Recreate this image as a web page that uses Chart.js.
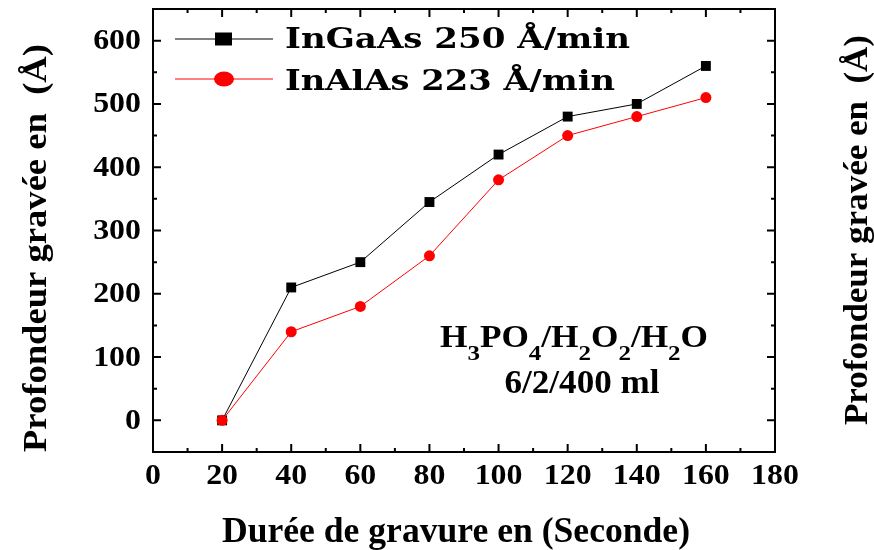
<!DOCTYPE html>
<html>
<head>
<meta charset="utf-8">
<script src="https://cdn.jsdelivr.net/npm/chart.js@4.4.0/dist/chart.umd.min.js"></script>
<style>
  html, body { margin: 0; padding: 0; background: #fff; }
  #wrap { width: 874px; height: 550px; }
</style>
</head>
<body>
<div id="wrap"><canvas id="graph"></canvas></div>
<script>
// data
const durees = [20, 40, 60, 80, 100, 120, 140, 160];
const ingaas = [0, 210, 250, 345, 420, 480, 500, 560];
const inalas = [0, 140, 180, 260, 380, 450, 480, 510];
const serie_labels = ['InGaAs 250 Å/min', 'InAlAs 223 Å/min'];
const x_ticks = [0, 20, 40, 60, 80, 100, 120, 140, 160, 180];
const y_ticks = [0, 100, 200, 300, 400, 500, 600];

const font_serif = '"Liberation Serif", "Times New Roman", serif';
const font_legend = '"DejaVu Serif", "Liberation Serif", serif';

// tulis teks dengan lebar tertentu (gambar asli agak melebar)
function fit_text(ctx, text, x, y, width, align) {
  const w = ctx.measureText(text).width;
  stretch_text(ctx, text, x, y, width / w, align);
}

function stretch_text(ctx, text, x, y, sx, align) {
  ctx.save();
  ctx.translate(x, y);
  ctx.scale(sx, 1);
  ctx.textAlign = align || 'center';
  ctx.fillText(text, 0, 0);
  ctx.restore();
}

// kotak + tick ke dalam + label tick
const frame_plugin = {
  id: 'frame',
  afterDraw(chart) {
    const { ctx, chartArea: a, scales } = chart;
    ctx.save();
    ctx.strokeStyle = '#000';
    ctx.lineWidth = 2;
    ctx.strokeRect(a.left, a.top, a.right - a.left, a.bottom - a.top);
    // x ticks
    for (let v = 0; v <= 180; v += 10) {
      const px = scales.x.getPixelForValue(v);
      const len = v % 20 === 0 ? 8 : 4;
      ctx.beginPath();
      ctx.moveTo(px, a.bottom); ctx.lineTo(px, a.bottom - len);
      ctx.moveTo(px, a.top); ctx.lineTo(px, a.top + len);
      ctx.stroke();
    }
    // y ticks
    for (let v = 0; v <= 600; v += 50) {
      const py = scales.y.getPixelForValue(v);
      const len = v % 100 === 0 ? 8 : 4;
      ctx.beginPath();
      ctx.moveTo(a.left, py); ctx.lineTo(a.left + len, py);
      ctx.moveTo(a.right, py); ctx.lineTo(a.right - len, py);
      ctx.stroke();
    }
    // label tick
    ctx.fillStyle = '#000';
    ctx.font = 'bold 29px ' + font_serif;
    ctx.textBaseline = 'middle';
    scales.x.ticks.forEach(t => {
      stretch_text(ctx, String(t.value), scales.x.getPixelForValue(t.value), a.bottom + 25, 1.1, 'center');
    });
    scales.y.ticks.forEach(t => {
      stretch_text(ctx, String(t.value), a.left - 12, scales.y.getPixelForValue(t.value) + 1, 1.1, 'right');
    });
    ctx.restore();
  }
};

// judul sumbu, legend, catatan
const text_plugin = {
  id: 'texts',
  afterDraw(chart) {
    const { ctx } = chart;
    ctx.save();
    ctx.fillStyle = '#000';
    ctx.textBaseline = 'alphabetic';

    ctx.font = 'bold 35px ' + font_serif;
    fit_text(ctx, 'Durée de gravure en (Seconde)', 456, 542, 468, 'center');

    const ytitle = 'Profondeur gravée en  (Å)';
    ctx.font = 'bold 34px ' + font_serif;
    ctx.save();
    ctx.translate(46, 248);
    ctx.rotate(-Math.PI / 2);
    fit_text(ctx, ytitle, 0, 0, 408, 'center');
    ctx.restore();
    ctx.font = 'bold 33px ' + font_serif;
    ctx.save();
    ctx.translate(867, 230);
    ctx.rotate(-Math.PI / 2);
    fit_text(ctx, ytitle, 0, 0, 390, 'center');
    ctx.restore();

    // legend
    const rows = [
      { y: 39, color: '#000', shape: 'rect', label: serie_labels[0], base: 48, w: 345 },
      { y: 79, color: '#ff0000', shape: 'circle', label: serie_labels[1], base: 90, w: 330 }
    ];
    rows.forEach(r => {
      ctx.strokeStyle = r.color;
      ctx.lineWidth = 1;
      ctx.beginPath();
      ctx.moveTo(175, r.y); ctx.lineTo(273, r.y);
      ctx.stroke();
      ctx.fillStyle = r.color;
      if (r.shape === 'rect') {
        ctx.fillRect(215, r.y - 6.5, 17, 13);
      } else {
        ctx.beginPath();
        ctx.ellipse(224, r.y, 10, 7.5, 0, 0, Math.PI * 2);
        ctx.fill();
      }
      ctx.fillStyle = '#000';
      ctx.font = 'bold 28px ' + font_legend;
      fit_text(ctx, r.label, 285, r.base, r.w, 'left');
    });

    // H3PO4/H2O2/H2O
    const parts = [['H', 0], ['3', 1], ['PO', 0], ['4', 1], ['/H', 0], ['2', 1], ['O', 0], ['2', 1], ['/H', 0], ['2', 1], ['O', 0]];
    const big = 'bold 31px ' + font_serif;
    const small = 'bold 22px ' + font_serif;
    let total = 0;
    parts.forEach(p => { ctx.font = p[1] ? small : big; total += ctx.measureText(p[0]).width; });
    const sx = 268 / total;
    ctx.save();
    ctx.translate(440, 0);
    ctx.scale(sx, 1);
    let x = 0;
    ctx.textAlign = 'left';
    parts.forEach(p => {
      ctx.font = p[1] ? small : big;
      ctx.fillText(p[0], x, p[1] ? 360 : 347);
      x += ctx.measureText(p[0]).width;
    });
    ctx.restore();
    ctx.font = 'bold 33px ' + font_serif;
    fit_text(ctx, '6/2/400 ml', 582, 393, 155, 'center');
    ctx.restore();
  }
};

const graph = document.getElementById('graph');

new Chart(graph, {
  type: 'line',
  data: {
    labels: durees,
    datasets: [{
      label: serie_labels[0],
      data: ingaas,
      borderColor: '#000',
      backgroundColor: '#000',
      borderWidth: 1,
      pointStyle: 'rect',
      pointRadius: 7,
      pointBorderWidth: 0,
      tension: 0,
      order: 2
    }, {
      label: serie_labels[1],
      data: inalas,
      borderColor: '#ff0000',
      backgroundColor: '#ff0000',
      borderWidth: 1,
      pointStyle: 'circle',
      pointRadius: 5.5,
      pointBorderWidth: 0,
      tension: 0,
      order: 1
    }]
  },
  options: {
    responsive: true,
    maintainAspectRatio: false,
    animation: false,
    layout: { padding: { left: 0, right: 99, top: 9, bottom: 0 } },
    plugins: {
      legend: { display: false },
      tooltip: { enabled: false }
    },
    scales: {
      x: {
        type: 'linear',
        min: 0,
        max: 180,
        afterBuildTicks: s => { s.ticks = x_ticks.map(v => ({ value: v })); },
        afterFit: s => { s.height = 98; },
        grid: { display: false, drawTicks: false },
        border: { display: false },
        ticks: { display: false }
      },
      y: {
        min: -50,
        max: 650,
        afterBuildTicks: s => { s.ticks = y_ticks.map(v => ({ value: v })); },
        afterFit: s => { s.width = 153; },
        grid: { display: false, drawTicks: false },
        border: { display: false },
        ticks: { display: false }
      }
    }
  },
  plugins: [frame_plugin, text_plugin]
});
</script>
</body>
</html>
